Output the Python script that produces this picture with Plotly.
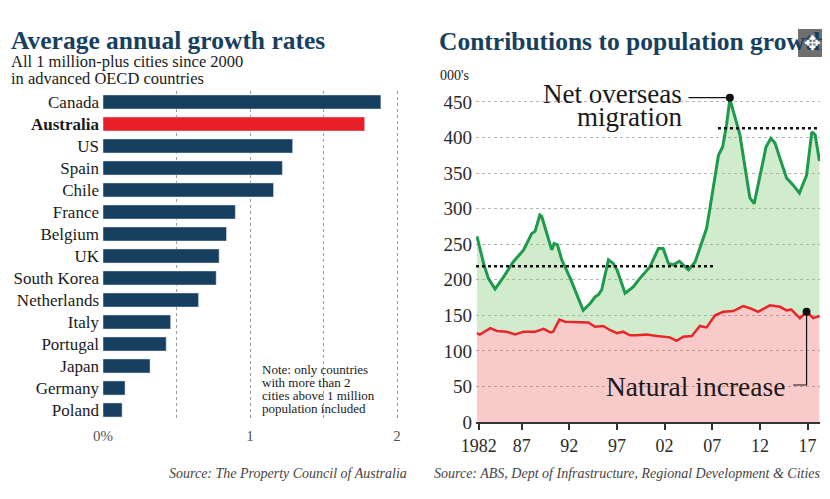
import plotly.graph_objects as go

# the page puts the figure 8px in from the top-left corner, so the figure is
# drawn 8px smaller and every pixel position below is taken from the window
W, H = 830, 499
OFF = 8
FW, FH = W - OFF, H - OFF

# left panel: average annual growth rates, %
countries = ["Canada", "Australia", "US", "Spain", "Chile", "France", "Belgium", "UK",
             "South Korea", "Netherlands", "Italy", "Portugal", "Japan", "Germany", "Poland"]
growth = [1.89, 1.78, 1.29, 1.22, 1.16, 0.90, 0.84, 0.79, 0.77, 0.65, 0.46, 0.43, 0.32, 0.15, 0.13]

# right panel: net overseas migration, 000's
nom_year = [1982.3, 1983.0, 1983.5, 1984.2, 1985.1, 1986.1, 1987.2, 1988.05, 1988.4, 1988.9,
            1989.1, 1989.8, 1990.15, 1990.4, 1990.75, 1991.2, 1992.1, 1993.45, 1994.2, 1994.7,
            1995.05, 1995.4, 1996.1, 1996.6, 1997.0, 1997.85, 1998.7, 1999.4, 2000.45, 2001.35,
            2001.85, 2002.4, 2002.9, 2003.55, 2003.95, 2004.5, 2005.2, 2005.9, 2006.4, 2006.75,
            2007.3, 2007.65, 2008.1, 2008.5, 2008.85, 2009.55, 2009.9, 2010.45, 2010.95, 2011.4,
            2012.0, 2012.65, 2013.15, 2013.6, 2014.1, 2014.8, 2015.5, 2016.15, 2016.9, 2017.45,
            2017.8, 2018.25]
nom = [261, 223, 202, 187, 204, 225, 242, 265, 268, 291,
       289, 256, 242, 251, 249, 228, 202, 157, 167, 176,
       179, 186, 228, 223, 214, 181, 190, 202, 218, 244,
       244, 223, 221, 226, 221, 214, 225, 254, 272, 300,
       343, 375, 387, 418, 454, 422, 404, 357, 315, 307,
       347, 387, 399, 392, 371, 343, 333, 322, 347, 408,
       404, 367]

# natural increase, 000's
ni_year = [1982.3, 1982.6, 1983.7, 1984.4, 1985.4, 1986.3, 1987.2, 1988.4, 1989.3, 1990.0,
           1990.3, 1990.95, 1991.55, 1992.1, 1993.1, 1994.0, 1994.7, 1995.55, 1996.3, 1997.0,
           1997.65, 1998.35, 1999.05, 2000.1, 2001.2, 2001.85, 2002.55, 2003.25, 2003.95, 2004.85,
           2005.7, 2006.4, 2007.3, 2008.15, 2009.2, 2010.25, 2010.95, 2011.8, 2013.05, 2014.1,
           2014.8, 2015.3, 2016.2, 2016.9, 2017.6, 2018.25]
ni = [125, 123, 132, 128, 127, 123, 127, 127, 131, 126,
      127, 144, 141, 141, 140, 140, 134, 135, 129, 125,
      127, 122, 122, 123, 121, 120, 119, 114, 120, 121,
      135, 133, 150, 155, 156, 163, 160, 155, 164, 162,
      157, 158, 146, 155, 146, 149]

# average levels (dotted lines)
avg_early_span = [1982.2, 2007.3]
avg_early = 219
avg_late_span = [2007.6, 2018.1]
avg_late = 413

year_ticks = [1982.5, 1987, 1992, 1997, 2002, 2007, 2012, 2017]
year_labels = ["1982", "87", "92", "97", "02", "07", "12", "17"]

note_lines = ["Note: only countries", "with more than 2", "cities above 1 million",
              "population included"]

SERIF = "Liberation Serif"
NAVY = "#173f5f"
INK = "#1a1a1a"


def px(x):
    return (x - OFF) / FW


def py(y):
    return 1 - (y - OFF) / FH


fig = go.Figure()

bar_colors = ["#e8202a" if c == "Australia" else NAVY for c in countries]
fig.add_trace(go.Bar(x=growth, y=countries, orientation="h", marker_color=bar_colors,
                     width=0.64, xaxis="x", yaxis="y", showlegend=False))

fig.add_trace(go.Scatter(x=ni_year, y=ni, mode="lines", fill="tozeroy",
                         fillcolor="rgba(235,80,80,0.3)",
                         line=dict(color="#e8262a", width=2.5),
                         xaxis="x2", yaxis="y2", showlegend=False))
fig.add_trace(go.Scatter(x=nom_year, y=nom, mode="lines", fill="tonexty",
                         fillcolor="rgba(120,200,110,0.35)",
                         line=dict(color="#1e9a4c", width=3),
                         xaxis="x2", yaxis="y2", showlegend=False))

fig.add_trace(go.Scatter(x=avg_early_span, y=[avg_early] * 2, mode="lines",
                         line=dict(color="#111", width=2.5, dash="dot"),
                         xaxis="x2", yaxis="y2", showlegend=False))
fig.add_trace(go.Scatter(x=avg_late_span, y=[avg_late] * 2, mode="lines",
                         line=dict(color="#111", width=2.5, dash="dot"),
                         xaxis="x2", yaxis="y2", showlegend=False))

peak_i = nom.index(max(nom))
ni_i = 43
fig.add_trace(go.Scatter(x=[nom_year[peak_i], ni_year[ni_i]], y=[nom[peak_i] + 2, ni[ni_i]],
                         mode="markers", marker=dict(color="#111", size=8),
                         xaxis="x2", yaxis="y2", showlegend=False))

# connector lines
fig.add_shape(type="line", xref="x2", yref="y2", x0=2004.5, x1=nom_year[peak_i],
              y0=nom[peak_i] + 2, y1=nom[peak_i] + 2, line=dict(color="#111", width=1.2))
fig.add_shape(type="path", xref="x2", yref="y2",
              path=f"M 2015.5 52 L {ni_year[ni_i]} 52 L {ni_year[ni_i]} {ni[ni_i]}",
              line=dict(color="#111", width=1.2))

ticktext = ["<b>Australia</b>" if c == "Australia" else c for c in countries]

fig.update_layout(
    width=FW, height=FH,
    margin=dict(l=0, r=0, t=0, b=0),
    paper_bgcolor="white", plot_bgcolor="rgba(0,0,0,0)",
    font=dict(family=SERIF, color=INK),
    xaxis=dict(domain=[px(103), px(400)], range=[0, 2.02],
               tickvals=[0, 0.5, 1, 1.5, 2], ticktext=["0%", "", "1", "", "2"],
               showgrid=True, gridcolor="#9a9a9a", griddash="dot", gridwidth=1,
               zeroline=False, ticks="", tickfont=dict(size=15, color="#555"),
               ticklabelstandoff=4, anchor="y", automargin=False, fixedrange=True),
    yaxis=dict(domain=[py(421), py(91)], autorange="reversed", tickmode="array",
               tickvals=countries, ticktext=ticktext, ticks="", showgrid=False,
               tickfont=dict(size=17, color=INK), ticklabelstandoff=3,
               anchor="x", automargin=False, fixedrange=True),
    xaxis2=dict(domain=[px(476), px(820)], range=[1982.2, 2018.31],
                tickvals=year_ticks, ticktext=year_labels, showgrid=False, zeroline=False,
                showline=True, linecolor="#333", linewidth=2,
                ticks="outside", ticklen=6, tickwidth=2, tickcolor="#333",
                tickfont=dict(size=18, color="#2a2a2a"), anchor="y2", automargin=False,
                fixedrange=True),
    yaxis2=dict(domain=[py(422), py(92)], range=[0, 464],
                tickvals=list(range(0, 451, 50)), showgrid=True, gridcolor="#b5b5b5",
                griddash="dot", gridwidth=1, zeroline=False, ticks="",
                tickfont=dict(size=19, color="#2a2a2a"), ticklabelstandoff=3,
                anchor="x2", automargin=False, fixedrange=True),
)

ann = []


def label(x, y, text, size, xanchor="left", color=INK, family=SERIF, **kw):
    ann.append(dict(x=px(x), y=py(y), xref="paper", yref="paper", text=text,
                    showarrow=False, xanchor=xanchor, yanchor="middle",
                    font=dict(size=size, color=color, family=family), **kw))


label(9, 40, "<b>Average annual growth rates</b>", 25.5, color=NAVY)
label(9, 62, "All 1 million-plus cities since 2000", 16.5)
label(9, 79, "in advanced OECD countries", 16.5)
label(437, 42, "<b>Contributions to population growth</b>", 25.5, color=NAVY)
label(438, 75, "000's", 14)
label(684, 94, "Net overseas", 27, xanchor="right")
label(684, 117, "migration", 27, xanchor="right")
label(604, 386, "Natural increase", 27.5)
for i, t in enumerate(note_lines):
    label(260, 369 + i * 13, t, 13)
label(409, 473, "<i>Source: The Property Council of Australia</i>", 14, xanchor="right",
      color="#444")
label(823, 473, "<i>Source: ABS, Dept of Infrastructure, Regional Development &amp; Cities</i>",
      14, xanchor="right", color="#444")
label(812, 43, "✥", 20, xanchor="center", color="white", family="DejaVu Sans")
fig.update_layout(annotations=ann)

# expand icon box over the right title
fig.add_shape(type="rect", xref="paper", yref="paper", x0=px(798), x1=px(826),
              y0=py(57), y1=py(29), fillcolor="rgba(95,95,95,0.9)", line=dict(width=0),
              layer="above")

fig.write_html("out.html")
